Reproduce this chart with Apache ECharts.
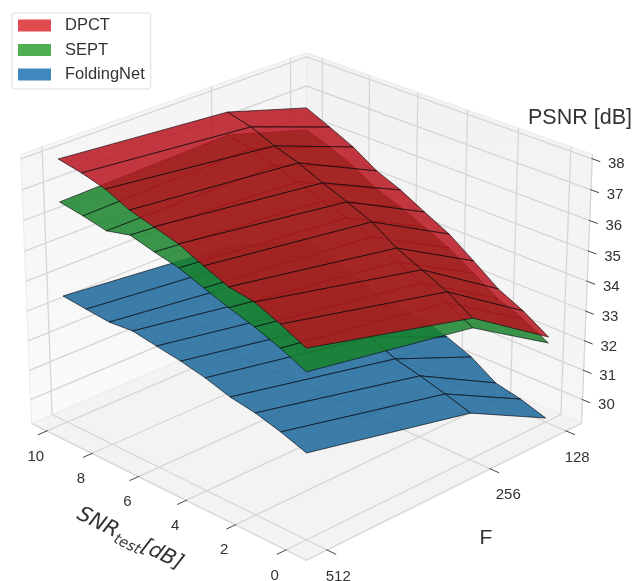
<!DOCTYPE html>
<html><head><meta charset="utf-8">
<style>html,body{margin:0;padding:0;background:#fff}#c{width:633px;height:581px}</style>
<script src="https://cdn.jsdelivr.net/npm/echarts@6/dist/echarts.min.js"></script></head>
<body><div id="c"></div>
<script>
// ---- data ----
const snrValues=[0,1,2,3,4,5,6,7,8,9,10];
const fValues=[512,256,128];
const snrTicks=[0,2,4,6,8,10];
const fTicks=[512,256,128];
const psnrTicks=[30,31,32,33,34,35,36,37,38];
const seriesNames=['DPCT','SEPT','FoldingNet'];
// each list: PSNR for SNR 0..10
const dpct512=[35.31,35.70,36.04,36.17,36.49,36.85,37.06,37.27,37.62,37.82,37.96];
const dpct256=[33.90,34.41,34.79,35.17,35.70,36.04,36.35,36.70,36.96,37.29,37.49];
const dpct128=[32.09,32.62,33.02,33.63,34.21,34.63,35.06,35.40,35.91,36.29,36.65];
const sept512=[34.57,34.95,35.26,35.51,35.79,36.09,36.26,36.47,36.28,36.44,36.57];
const sept256=[33.58,34.05,34.36,34.71,35.21,35.51,35.75,36.07,36.29,36.55,36.72];
const sept128=[31.89,32.35,32.68,33.22,33.74,34.12,34.48,34.78,35.26,35.61,35.89];
const fold512=[32.00,32.29,32.52,32.66,32.91,33.09,33.22,33.36,33.30,33.38,33.47];
const fold256=[30.75,31.02,31.26,31.47,31.85,32.05,32.24,32.45,32.62,32.80,32.92];
const fold128=[29.32,29.60,29.79,30.33,30.67,30.91,30.98,31.16,31.53,31.83,32.03];
const surfaces=[[fold512,fold256,fold128],[sept512,sept256,sept128],[dpct512,dpct256,dpct128]];
const surfaceNames=['FoldingNet','SEPT','DPCT'];
// axis limits of the 3-D box
const snrRange=[-0.805,10.69], fRange=[542.9,101.5], psnrRange=[29.18,38.14];

// ---- styles ----
const surfaceFill={DPCT:'rgba(184,20,31,0.85)',SEPT:'rgba(25,131,43,0.85)',FoldingNet:'rgba(26,102,155,0.85)'};
const legendColor={DPCT:'#e04b50',SEPT:'#4daf50',FoldingNet:'#3f88be'};
const font='"Liberation Sans",Arial,sans-serif', ink='#333333', gridC='#d6d6d6';

// ---- camera (elevation, distance, focal length, centre on the page) ----
const cam={e:25*Math.PI/180,D:11.5,f:3224,cx:306.5,cy:291.5,h:.529};
function project(snr,F,v){
  const p=(snr-snrRange[0])/(snrRange[1]-snrRange[0]);
  const q=(F-fRange[0])/(fRange[1]-fRange[0]);
  const z=-cam.h+2*cam.h*(v-psnrRange[0])/(psnrRange[1]-psnrRange[0]);
  const s=q-p,d=1-p-q,c=Math.cos(cam.e),n=Math.sin(cam.e);
  const Y=z*c-d*n,Zc=cam.D-z*n-d*c;
  return [cam.cx+cam.f*s/Zc,cam.cy-cam.f*Y/Zc];
}
const [sA,sB]=snrRange,[fA,fB]=fRange,[zA,zB]=psnrRange;

// ---- generic renderers: data items are flat [snr,F,psnr,...] ----
function pts(api,start,count){const o=[];for(let i=0;i<count;i++){
  o.push(api.coord(project(api.value(start+i*3),api.value(start+i*3+1),api.value(start+i*3+2))));}return o;}
const polySeries=(name,data,z,style)=>({type:'custom',name,coordinateSystem:'cartesian2d',silent:true,clip:false,z,animation:false,data,
  renderItem:(params,api)=>({type:'polygon',shape:{points:pts(api,0,data[params.dataIndex].length/3)},style})});
const lineSeries=(name,data,z,style)=>({type:'custom',name,coordinateSystem:'cartesian2d',silent:true,clip:false,z,animation:false,data,
  renderItem:(params,api)=>({type:'polyline',shape:{points:pts(api,0,data[params.dataIndex].length/3)},style})});
const vGrad=(a,b)=>new echarts.graphic.LinearGradient(0,0,0,1,[{offset:0,color:a},{offset:1,color:b}]);

// panes
const panes=[
 {d:[sA,fA,zA, sB,fA,zA, sB,fB,zA, sA,fB,zA],c:'#f3f3f3'},
 {d:[sB,fA,zA, sB,fB,zA, sB,fB,zB, sB,fA,zB],c:vGrad('#f4f4f4','#fafafa')},
 {d:[sA,fB,zA, sB,fB,zA, sB,fB,zB, sA,fB,zB],c:vGrad('#f2f2f2','#f6f6f6')}];
const series=[];
panes.forEach((pn,i)=>series.push(polySeries('pane'+i,[pn.d],1,{fill:pn.c,stroke:'#ececec',lineWidth:1})));
// grid lines
const gridData=[];
snrTicks.forEach(t=>gridData.push([t,fA,zA, t,fB,zA, t,fB,zB]));
fTicks.forEach(t=>gridData.push([sA,t,zA, sB,t,zA, sB,t,zB]));
psnrTicks.forEach(t=>gridData.push([sA,fB,t, sB,fB,t, sB,fA,t]));
series.push(lineSeries('grid',gridData,2,{fill:'none',stroke:gridC,lineWidth:1.3}));
// box edges
series.push(lineSeries('edges',[[sB,fA,zA, sA,fA,zA, sA,fB,zA],[sA,fB,zA, sA,fB,zB]],3,{fill:'none',stroke:'#d6d6d6',lineWidth:1.2}));
// ticks
const tickData=[];
const dF=(fB-fA)*.03,dS=(sB-sA)*.03,dP=(sB-sA)*.026;
snrTicks.forEach(t=>tickData.push([t,fA-dF,zA, t,fA+dF*.1,zA]));
fTicks.forEach(t=>tickData.push([sA-dS,t,zA, sA+dS*.1,t,zA]));
psnrTicks.forEach(t=>tickData.push([sA-dP,fB,t, sA+dP*.1,fB,t]));
series.push(lineSeries('ticks',tickData,3,{fill:'none',stroke:'#444',lineWidth:1}));
// surfaces
surfaces.forEach((rows,k)=>{
  const name=surfaceNames[k],data=[];
  for(let s=snrValues.length-2;s>=0;s--) for(let j=fValues.length-2;j>=0;j--){
    data.push([snrValues[s],fValues[j],rows[j][s], snrValues[s],fValues[j+1],rows[j+1][s],
               snrValues[s+1],fValues[j+1],rows[j+1][s+1], snrValues[s+1],fValues[j],rows[j][s+1]]);
  }
  const sr=polySeries(name,data,10+k,{fill:surfaceFill[name],stroke:'rgba(8,8,12,0.8)',lineWidth:.8,lineJoin:'round'});
  sr.itemStyle={color:legendColor[name]};
  series.push(sr);
});
// tick labels
function labelSeries(name,values,pos,dx,dy,size){
  return {type:'custom',name,coordinateSystem:'cartesian2d',silent:true,clip:false,z:20,animation:false,data:values.map((v,i)=>[i]),
    renderItem:(params,api)=>{const i=params.dataIndex,v=values[i];const c=api.coord(project(...pos(v)));
      const ox=Array.isArray(dx)?dx[i]:dx;
      return {type:'text',x:c[0]+ox,y:c[1]+dy,style:{text:String(v),fontFamily:font,fontSize:size,fill:ink,align:'center',verticalAlign:'middle'}};}};
}
series.push(labelSeries('snrLabels',snrTicks,v=>[v,fA,zA],-11,25.5,15));
series.push(labelSeries('fLabels',fTicks,v=>[sA,v,zA],[11,18,11],26.5,15));
series.push(labelSeries('zLabels',psnrTicks,v=>[sA,fB,v],24,5.5,15));
// axis titles
const titleItems=[
 {text:'PSNR [dB]',x:580,y:118,size:21.5},
 {text:'F',x:486,y:538,size:21}];
series.push({type:'custom',name:'titles',coordinateSystem:'cartesian2d',silent:true,clip:false,z:20,animation:false,data:titleItems.map((t,i)=>[i]),
  renderItem:(params,api)=>{const t=titleItems[params.dataIndex];const c=api.coord([t.x,t.y]);
    return {type:'text',x:c[0],y:c[1],style:{text:t.text,fontFamily:font,fontSize:t.size,fill:ink,align:'center',verticalAlign:'middle'}};}});
series.push({type:'custom',name:'snrTitle',coordinateSystem:'cartesian2d',silent:true,clip:false,z:20,animation:false,data:[[0]],
  renderItem:(params,api)=>{const c=api.coord([130,539]);
    return {type:'text',x:c[0],y:c[1],rotation:-26.5*Math.PI/180,style:{
      text:'{a|SNR}{b|test}{a|[dB]}',align:'center',verticalAlign:'middle',
      rich:{a:{fontFamily:'"DejaVu Sans"',fontStyle:'italic',fontSize:21,fill:ink,lineHeight:28,verticalAlign:'middle'},
            b:{fontFamily:'"DejaVu Sans"',fontStyle:'italic',fontSize:14.5,fill:ink,lineHeight:28,verticalAlign:'bottom'}}}};}});

const chart=echarts.init(document.getElementById('c'),null,{renderer:'canvas',width:633,height:581});
chart.setOption({
  animation:false,backgroundColor:'#ffffff',
  grid:{left:0,right:0,top:0,bottom:0},
  xAxis:{type:'value',min:0,max:633,show:false},
  yAxis:{type:'value',min:0,max:581,inverse:true,show:false},
  tooltip:{show:false},
  legend:{data:seriesNames,left:12,top:13,orient:'vertical',padding:[4,6,6,6],itemGap:7.5,itemWidth:33,itemHeight:12,icon:'rect',
    backgroundColor:'#fff',borderColor:'#dcdcdc',borderWidth:1,borderRadius:3,selectedMode:false,z:30,
    textStyle:{fontFamily:font,fontSize:16.5,color:ink,padding:[0,0,0,9]}},
  series
});
</script></body></html>
